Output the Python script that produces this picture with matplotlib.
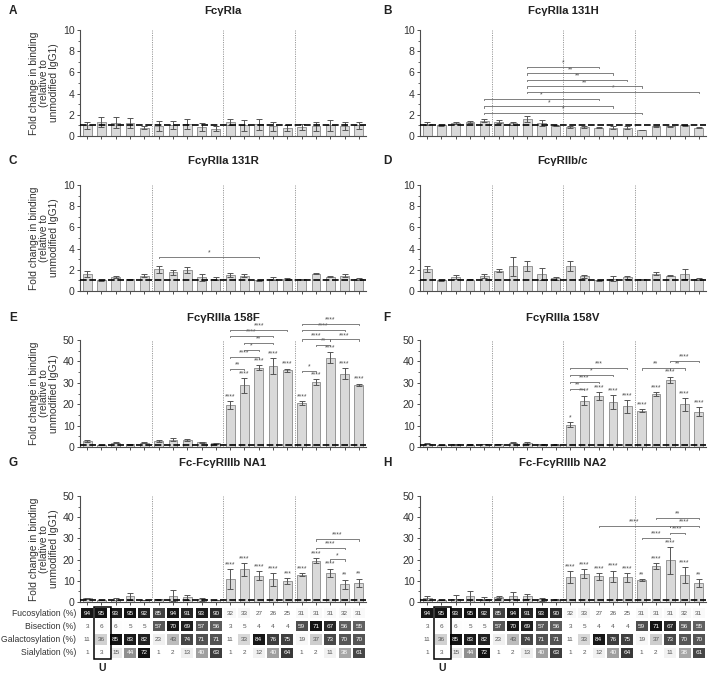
import matplotlib
matplotlib.use('Agg')
import matplotlib.pyplot as plt
import numpy as np
from matplotlib.colors import ListedColormap, Normalize
from matplotlib.patches import Rectangle

plt.rcParams['font.family'] = ['Liberation Sans', 'DejaVu Sans']

# ---------------- data ----------------
letters = ['A', 'B', 'C', 'D', 'E', 'F', 'G', 'H']
titles = ['FcγRIa', 'FcγRIIa 131H', 'FcγRIIa 131R', 'FcγRIIb/c',
          'FcγRIIIa 158F', 'FcγRIIIa 158V', 'Fc-FcγRIIIb NA1', 'Fc-FcγRIIIb NA2']

a_mean = [1.0, 1.3, 1.25, 1.25, 0.8, 0.95, 1.05, 1.15, 0.85, 0.7, 1.3, 1.0, 1.1, 0.9, 0.75, 0.85, 0.9, 1.0, 0.95, 1.0]
a_err = [0.35, 0.45, 0.5, 0.45, 0.15, 0.45, 0.35, 0.45, 0.35, 0.2, 0.3, 0.5, 0.5, 0.4, 0.25, 0.3, 0.45, 0.5, 0.35, 0.35]

b_mean = [1.15, 1.0, 1.25, 1.35, 1.45, 1.35, 1.2, 1.6, 1.25, 0.95, 0.85, 0.85, 0.8, 0.8, 0.8, 0.55, 0.9, 0.9, 1.0, 0.8]
b_err = [0.15, 0.03, 0.08, 0.1, 0.12, 0.12, 0.15, 0.3, 0.3, 0.05, 0.08, 0.08, 0.05, 0.1, 0.1, 0.03, 0.05, 0.05, 0.07, 0.08]

c_mean = [1.6, 1.0, 1.35, 1.1, 1.45, 2.05, 1.75, 2.0, 1.3, 1.15, 1.5, 1.45, 1.0, 1.15, 1.15, 1.1, 1.65, 1.35, 1.45, 1.1]
c_err = [0.25, 0.03, 0.1, 0.05, 0.12, 0.35, 0.2, 0.3, 0.35, 0.15, 0.2, 0.12, 0.05, 0.15, 0.1, 0.05, 0.08, 0.05, 0.12, 0.1]

d_mean = [2.1, 1.0, 1.35, 1.05, 1.4, 1.9, 2.35, 2.35, 1.6, 1.2, 2.35, 1.4, 1.0, 1.15, 1.3, 1.1, 1.65, 1.45, 1.6, 1.1]
d_err = [0.3, 0.03, 0.2, 0.05, 0.2, 0.15, 0.9, 0.45, 0.6, 0.15, 0.5, 0.15, 0.08, 0.25, 0.15, 0.05, 0.1, 0.05, 0.5, 0.1]

e_mean = [2.8, 1.0, 2.0, 1.3, 2.0, 2.8, 3.5, 3.2, 2.2, 1.7, 19.5, 28.8, 37.0, 38.0, 35.8, 20.5, 30.5, 41.8, 34.3, 29.0]
e_err = [0.3, 0.05, 0.3, 0.2, 0.2, 0.5, 0.6, 0.5, 0.3, 0.3, 1.8, 3.5, 1.2, 3.7, 0.8, 0.8, 1.3, 2.5, 2.5, 0.6]

f_mean = [1.5, 1.0, 1.3, 1.1, 1.4, 1.4, 2.0, 1.9, 1.3, 1.1, 10.5, 21.7, 23.8, 21.0, 19.0, 17.0, 24.8, 31.3, 20.0, 16.5]
f_err = [0.2, 0.05, 0.2, 0.1, 0.2, 0.2, 0.3, 0.3, 0.2, 0.1, 1.1, 2.3, 1.8, 3.1, 3.0, 0.6, 1.0, 1.6, 3.0, 2.0]

g_mean = [1.8, 1.0, 1.1, 2.6, 1.0, 1.3, 3.0, 2.2, 1.2, 1.0, 10.7, 15.4, 12.4, 10.7, 10.0, 12.8, 19.5, 13.7, 8.3, 9.0]
g_err = [0.3, 0.05, 0.9, 1.5, 0.1, 0.3, 2.6, 1.2, 0.8, 0.1, 4.7, 3.0, 2.2, 3.0, 1.3, 0.7, 1.2, 2.0, 2.3, 2.0]

h_mean = [1.9, 1.0, 1.6, 2.7, 1.5, 2.3, 2.9, 2.6, 1.3, 1.1, 11.7, 13.3, 12.1, 12.0, 11.6, 10.4, 17.0, 19.7, 12.6, 8.8]
h_err = [1.0, 0.05, 1.9, 2.5, 0.7, 0.6, 1.6, 1.2, 0.8, 0.3, 2.8, 2.2, 1.5, 2.8, 2.0, 0.5, 1.3, 6.3, 3.8, 1.9]

e_stars = [''] * 10 + ['****'] * 10
f_stars = [''] * 10 + ['*'] + ['****'] * 9
g_stars = [''] * 10 + ['****'] * 4 + ['***'] + ['****'] * 3 + ['**', '**']
h_stars = [''] * 10 + ['****'] * 5 + ['**'] + ['****'] * 3 + ['**']

# brackets: (from, to, height, label)
b_brackets = [(7, 12, 6.55, '*'), (7, 13, 5.9, '**'), (7, 14, 5.3, '**'), (7, 15, 4.67, '**'),
              (7, 19, 4.17, '*'), (4, 12, 3.48, '*'), (4, 13, 2.8, '*'), (4, 15, 2.16, '*')]
c_brackets = [(5, 12, 3.24, '*')]
e_brackets = [(10, 11, 36.5, '**'), (10, 12, 42.0, '****'), (11, 12, 45.5, '*'), (11, 13, 48.7, '**'),
              (10, 13, 52.0, '****'), (10, 14, 54.7, '****'),
              (15, 16, 35.7, '*'), (16, 17, 47.7, '**'), (15, 17, 50.3, '****'), (17, 19, 50.3, '****'),
              (15, 18, 54.7, '****'), (15, 19, 57.5, '****')]
f_brackets = [(10, 11, 27.2, '**'), (10, 12, 30.3, '****'), (10, 13, 33.7, '*'), (10, 14, 36.9, '***'),
              (15, 17, 36.8, '**'), (17, 18, 36.8, '**'), (17, 19, 40.3, '****')]
g_brackets = [(16, 19, 29.6, '****'), (16, 18, 25.6, '****'), (17, 18, 20.1, '*')]
h_brackets = [(15, 17, 30.3, '****'), (17, 18, 32.7, '****'), (12, 17, 36.0, '****'),
              (17, 19, 36.0, '****'), (16, 19, 39.8, '**')]

row_labels = ['Fucosylation (%)', 'Bisection (%)', 'Galactosylation (%)', 'Sialylation (%)']
fucosylation = [94, 95, 93, 95, 92, 85, 94, 91, 93, 90, 32, 33, 27, 26, 25, 31, 31, 31, 32, 31]
bisection = [3, 6, 6, 5, 5, 57, 70, 69, 57, 56, 3, 5, 4, 4, 4, 59, 71, 67, 56, 55]
galactosylation = [11, 36, 85, 83, 82, 23, 43, 74, 71, 71, 11, 33, 84, 76, 75, 19, 37, 73, 70, 70]
sialylation = [1, 3, 15, 44, 72, 1, 2, 13, 40, 63, 1, 2, 12, 40, 64, 1, 2, 11, 38, 61]
u_column = 1

panels = [
    (a_mean, a_err, None, [], 10),
    (b_mean, b_err, None, b_brackets, 10),
    (c_mean, c_err, None, c_brackets, 10),
    (d_mean, d_err, None, [], 10),
    (e_mean, e_err, e_stars, e_brackets, 50),
    (f_mean, f_err, f_stars, f_brackets, 50),
    (g_mean, g_err, g_stars, g_brackets, 50),
    (h_mean, h_err, h_stars, h_brackets, 50),
]

# ---------------- layout ----------------
W, H = 708, 676
fig = plt.figure(figsize=(W / 100, H / 100), dpi=100)


def rect(x0, x1, ytop, ybot):
    return [x0 / W, 1 - ybot / H, (x1 - x0) / W, (ybot - ytop) / H]


col_x = [(80, 366), (420, 706)]
row_y = [(30, 136), (185, 291), (340, 447), (496, 602)]
title_y = [11, 161, 318, 463]
letter_x = [13, 387]

bar_face = '#d9d9d9'
bar_edge = '#8a8a8a'
dark = '#4d4d4d'
star_fs = 4.8

for k, (mean, err, stars, brackets, ymax) in enumerate(panels):
    r, c = divmod(k, 2)
    x0, x1 = col_x[c]
    yt, yb = row_y[r]
    ax = fig.add_axes(rect(x0, x1, yt, yb))
    x = np.arange(len(mean))
    ax.bar(x, mean, width=0.62, color=bar_face, edgecolor=bar_edge, linewidth=0.6, zorder=2)
    ax.errorbar(x, mean, yerr=err, fmt='none', ecolor='#555555', elinewidth=0.7,
                capsize=2.0, capthick=0.7, zorder=3)
    ax.axhline(1, color='black', linestyle=(0, (4, 1.6)), linewidth=1.2, zorder=4)
    for sep in (4.5, 9.5, 14.5):
        ax.axvline(sep, color='#9a9a9a', linestyle=(0, (1.2, 1.2)), linewidth=0.7, zorder=1)
    ax.set_xlim(-0.5, len(mean) - 0.5)
    ax.set_ylim(0, ymax)
    ax.set_xticks(x)
    ax.set_xticklabels([])
    step = ymax / 5
    ax.set_yticks(np.arange(0, ymax + step / 2, step))
    ax.set_yticks(np.arange(step / 2, ymax, step), minor=True)
    ax.set_yticklabels([f'{int(v)}' for v in np.arange(0, ymax + step / 2, step)])
    ax.tick_params(axis='both', which='major', length=2.5, width=0.7, color=dark,
                   labelsize=7.6, labelcolor='#333333', pad=1.5)
    ax.tick_params(axis='y', which='minor', length=1.5, width=0.6, color=dark)
    ax.tick_params(axis='x', which='both', direction='out')
    for s in ('top', 'right'):
        ax.spines[s].set_visible(False)
    for s in ('left', 'bottom'):
        ax.spines[s].set_color(dark)
        ax.spines[s].set_linewidth(0.8)
    if c == 0:
        ax.set_ylabel('Fold change in binding\n(relative to\nunmodified IgG1)', fontsize=7.4,
                      color='#333333', linespacing=1.0, labelpad=3)
    # stars above bars
    if stars:
        for i, s in enumerate(stars):
            if s:
                ax.text(i, mean[i] + err[i] + ymax * 0.008, s, ha='center', va='bottom',
                        fontsize=star_fs, color=dark, clip_on=False)
    # brackets
    tick = ymax * 0.012
    for (i, j, yv, lab) in brackets:
        ax.plot([i, i, j, j], [yv - tick, yv, yv, yv - tick], color='#6a6a6a', linewidth=0.6,
                clip_on=False, zorder=5)
        ax.text((i + j) / 2, yv + ymax * 0.004, lab, ha='center', va='bottom', fontsize=star_fs,
                color=dark, clip_on=False)
    # title & letter
    fig.text(((x0 + x1) / 2) / W, 1 - title_y[r] / H, titles[k], ha='center', va='center',
             fontsize=8.2, fontweight='bold', color='#222222')
    fig.text(letter_x[c] / W, 1 - title_y[r] / H, letters[k], ha='center', va='center',
             fontsize=8.5, fontweight='bold', color='#222222')

# ---------------- composition heatmaps ----------------
gl = np.linspace(0, 1, 256)
cmap = ListedColormap([(1 - 0.93 * t ** 1.5,) * 3 for t in gl])
rows = [fucosylation, bisection, galactosylation, sialylation]

for c in range(2):
    x0, x1 = col_x[c]
    hax = fig.add_axes(rect(x0, x1, 606.4, 659.4))
    hax.set_xlim(-0.5, 19.5)
    hax.set_ylim(3.5, -0.5)
    hax.axis('off')
    for r_i, vals in enumerate(rows):
        vals = np.array(vals, dtype=float)
        norm = Normalize(vmin=vals.min(), vmax=vals.max())
        cols = [cmap(norm(v)) for v in vals]
        hax.bar(np.arange(len(vals)), 0.76, bottom=r_i - 0.38, width=0.84, color=cols, linewidth=0)
        for i, v in enumerate(vals):
            hax.text(i, r_i, f'{int(v)}', ha='center', va='center', fontsize=4.6,
                     color='white' if norm(v) > 0.5 else '#555555')
        if c == 0:
            hax.text(-0.75, r_i, row_labels[r_i], ha='right', va='center', fontsize=6.2,
                     color='#333333', clip_on=False)
    hax.add_patch(Rectangle((u_column - 0.5, -0.48), 1.15, 3.96, fill=False, edgecolor='black',
                            linewidth=1.1, clip_on=False))
    hax.text(u_column + 0.08, 3.5 + 0.62, 'U', ha='center', va='center', fontsize=7.5,
             fontweight='bold', color='#222222', clip_on=False)

fig.savefig('out.png', dpi=100)
